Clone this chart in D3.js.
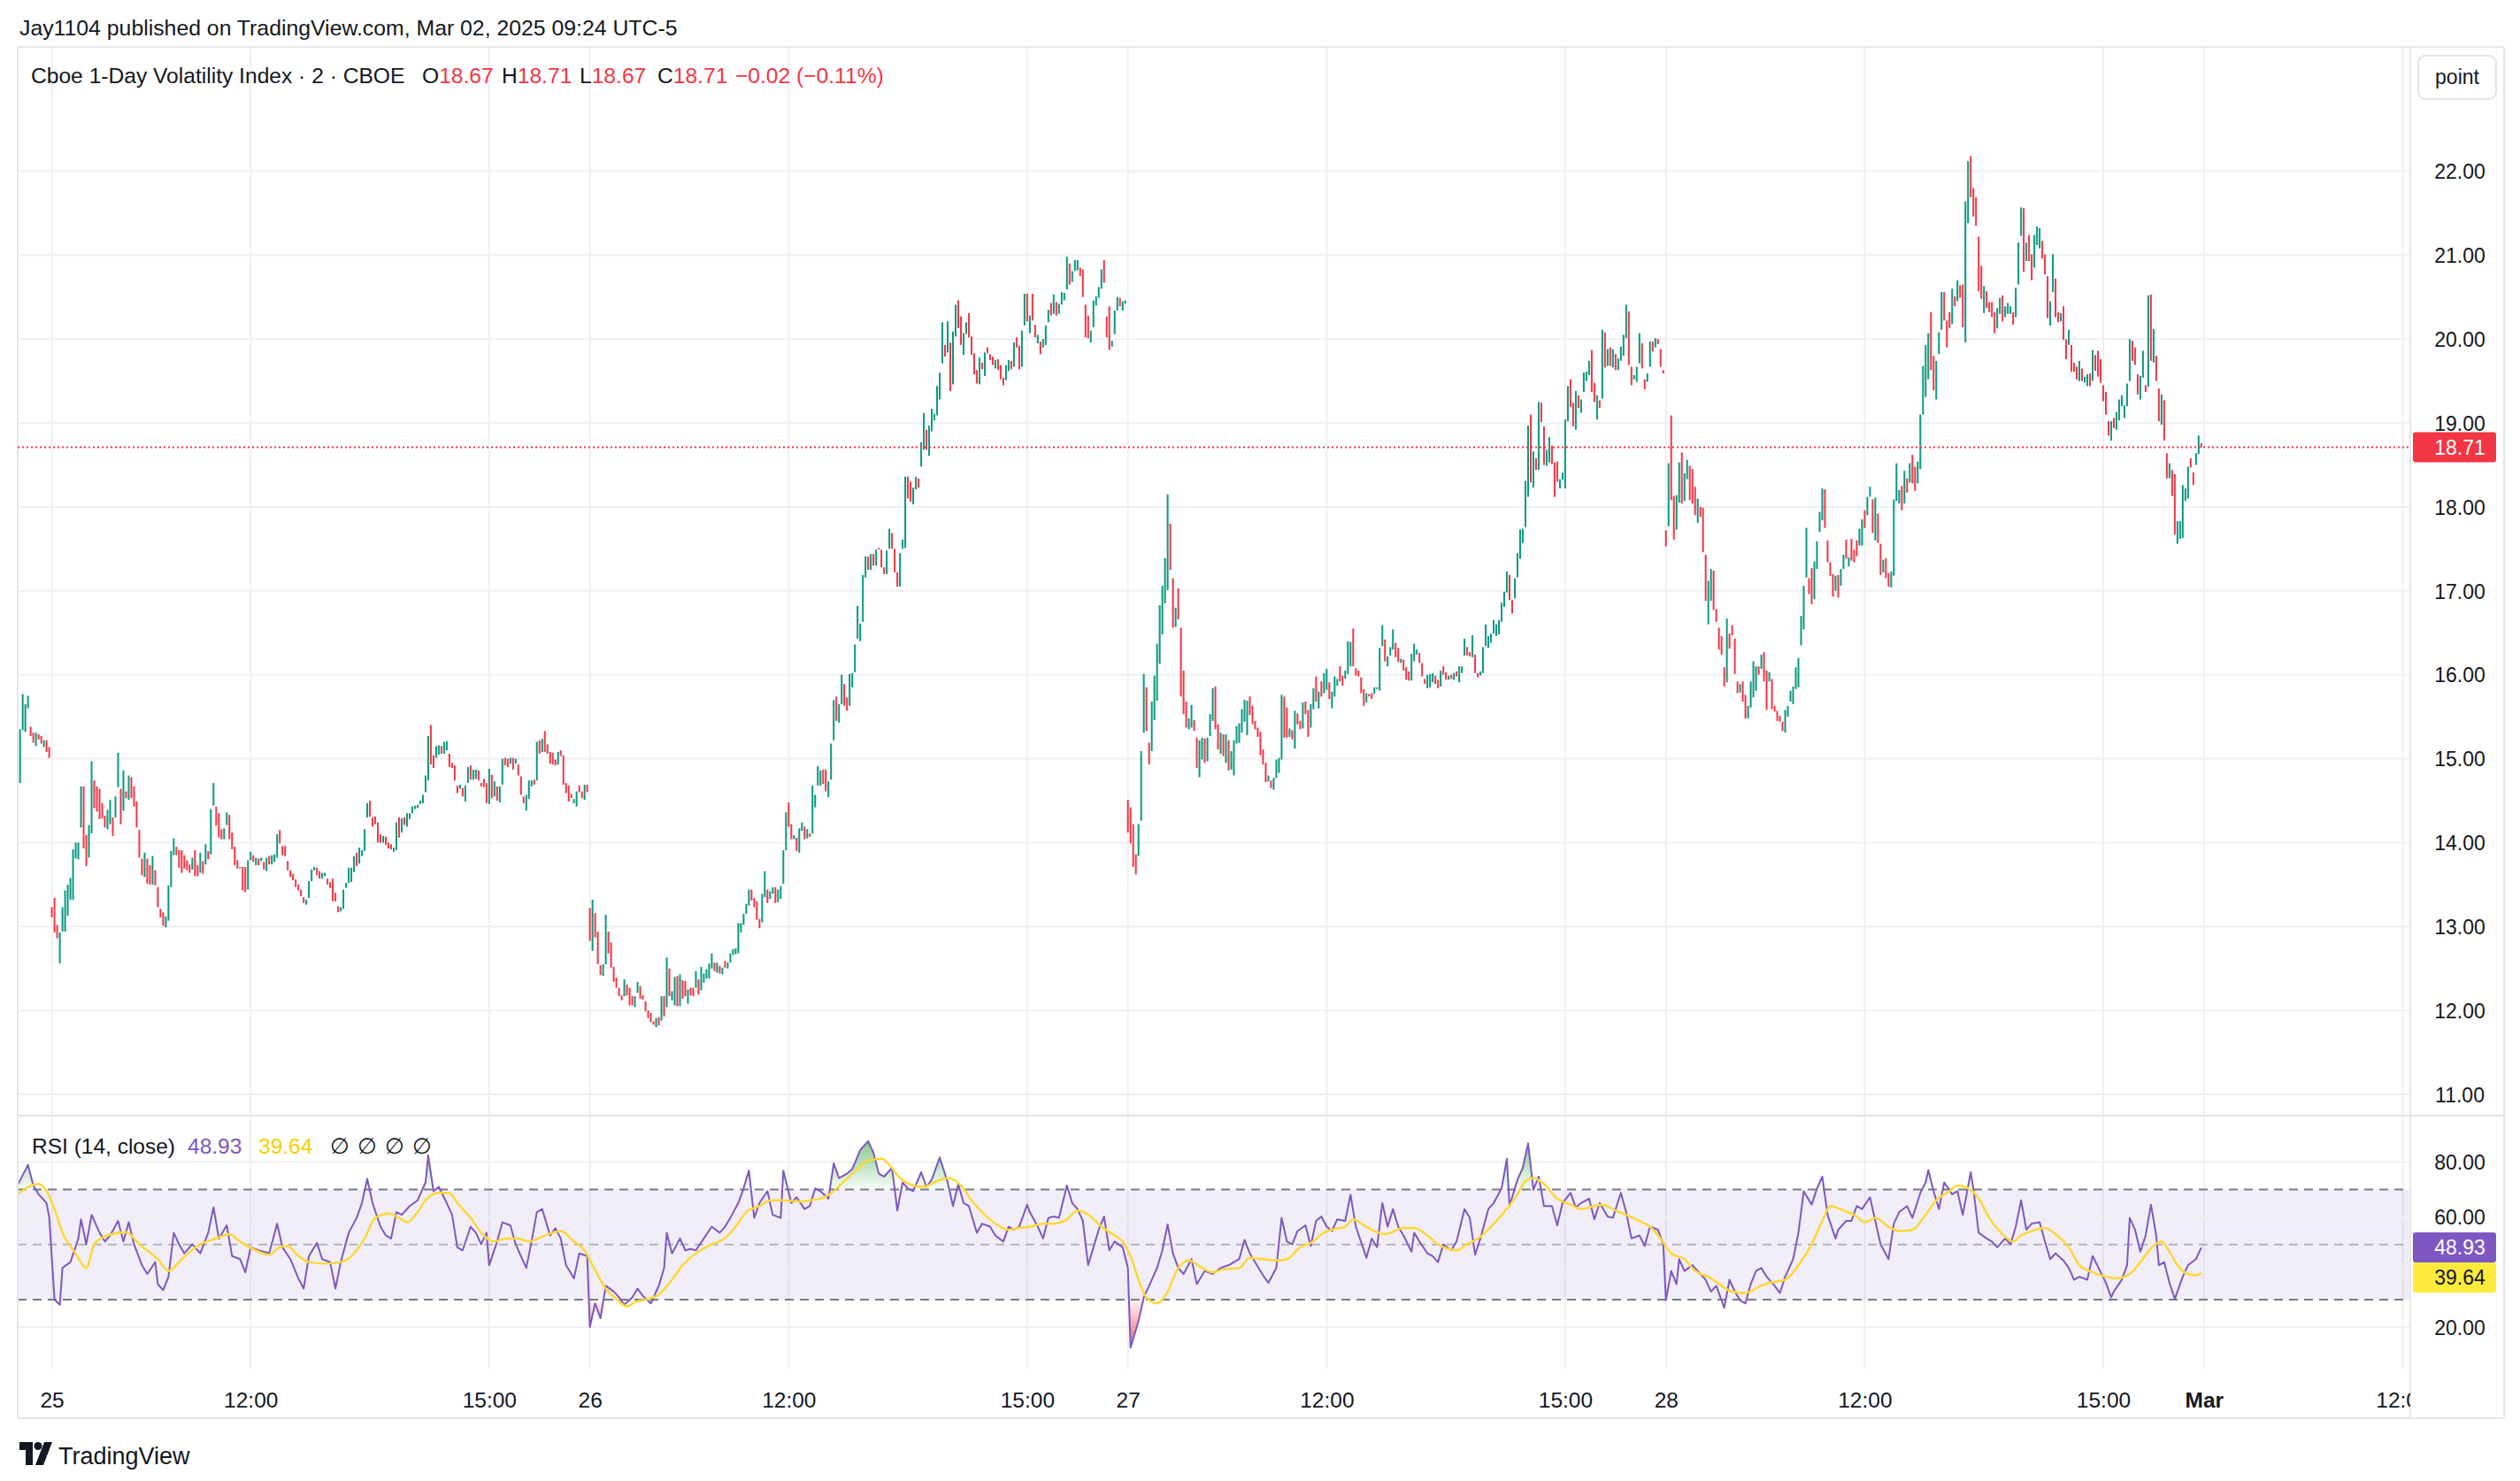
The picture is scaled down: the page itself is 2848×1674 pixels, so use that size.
<!DOCTYPE html>
<html>
<head>
<meta charset="utf-8">
<script src="https://cdn.jsdelivr.net/npm/d3@7"></script>
<style>
  html, body { margin: 0; padding: 0; background: #fff; }
  svg { display: block; }
  text { font-family: "Liberation Sans", Arial, sans-serif; }
</style>
</head>
<body>
<div id="chart"></div>
<script>
// 2-minute bars, [open, close]; each session 09:30-16:14 = 203 bars
const feb24Tail = [[14.07,14.87],[14.71,15.35],[15.34,15.77],[15.32,15.65],[15.60,15.75],[15.38,15.27],[15.31,15.19],
  [15.15,15.31],[15.29,15.23],[15.27,15.18],[15.14,15.22],[15.22,15.08],[15.14,15.01]];

const feb25 = [
  [13.23,13.11],[13.34,12.93],[13.02,12.86],[12.56,12.93],[12.94,13.23],[12.94,13.43],[13.13,13.50],[13.32,13.58],[13.32,13.92],[13.81,14.00],
  [13.80,14.00],[14.18,14.67],[14.67,13.93],[14.09,13.72],[13.82,14.21],[14.11,14.97],[14.74,14.41],[14.67,14.37],[14.64,14.28],[14.47,14.29],
  [14.32,14.18],[14.16,14.39],[14.22,14.51],[14.30,14.08],[14.30,14.55],[14.66,15.07],[14.64,14.22],[14.38,14.86],[14.61,14.53],[14.51,14.80],
  [14.78,14.53],[14.67,14.43],[14.49,14.18],[14.15,13.82],[13.81,13.61],[13.59,13.88],[13.81,13.51],[13.73,13.50],[13.50,13.84],[13.67,13.49],
  [13.47,13.23],[13.21,13.11],[13.17,13.01],[12.99,13.12],[13.07,13.49],[13.47,13.90],[13.85,14.05],[13.95,13.85],[13.91,13.70],[13.91,13.64],
  [13.85,13.69],[13.79,13.67],[13.74,13.64],[13.68,13.82],[13.91,13.60],[13.73,13.60],[13.64,13.88],[13.78,13.63],[13.74,13.98],[13.90,13.80],
  [13.86,14.40],[14.44,14.71],[14.43,14.20],[14.35,14.06],[14.16,14.04],[14.04,14.17],[14.21,14.36],[14.33,14.04],[14.12,13.92],[13.95,13.73],
  [13.79,13.69],[13.70,13.71],[13.71,13.43],[13.71,13.41],[13.44,13.79],[13.79,13.89],[13.85,13.77],[13.73,13.82],[13.81,13.73],[13.78,13.82],
  [13.77,13.68],[13.66,13.82],[13.84,13.74],[13.74,13.85],[13.77,13.86],[13.82,14.10],[14.15,13.99],[13.96,13.85],[13.96,13.84],[13.78,13.67],
  [13.67,13.59],[13.63,13.55],[13.56,13.47],[13.50,13.43],[13.44,13.36],[13.35,13.28],[13.26,13.32],[13.34,13.54],[13.54,13.68],[13.67,13.71],
  [13.70,13.61],[13.66,13.57],[13.57,13.64],[13.60,13.64],[13.57,13.50],[13.53,13.46],[13.57,13.30],[13.40,13.30],[13.24,13.17],[13.18,13.23],
  [13.21,13.44],[13.46,13.52],[13.52,13.70],[13.53,13.70],[13.65,13.84],[13.88,13.72],[13.75,13.94],[13.84,13.91],[13.90,14.16],[14.30,14.47],
  [14.50,14.31],[14.30,14.19],[14.31,14.22],[14.24,14.00],[14.10,14.00],[14.00,14.08],[14.07,13.97],[14.00,13.93],[13.98,13.92],[13.89,13.94],
  [13.91,14.24],[14.30,14.06],[14.12,14.29],[14.30,14.21],[14.19,14.35],[14.28,14.35],[14.35,14.43],[14.40,14.44],[14.41,14.45],[14.46,14.50],
  [14.47,14.57],[14.60,14.80],[14.74,15.27],[15.40,14.93],[15.04,14.89],[15.01,15.15],[15.05,15.16],[15.15,15.06],[15.06,15.20],[15.10,15.21],
  [15.06,14.90],[14.95,14.89],[14.92,14.74],[14.68,14.59],[14.64,14.69],[14.65,14.55],[14.49,14.68],[14.71,14.90],[14.92,14.75],[14.75,14.87],
  [14.76,14.87],[14.86,14.74],[14.71,14.67],[14.76,14.66],[14.71,14.47],[14.46,14.88],[14.81,14.53],[14.55,14.73],[14.67,14.50],[14.48,14.67],
  [14.69,15.00],[15.01,14.92],[15.00,14.90],[14.94,15.01],[15.01,14.87],[14.94,15.00],[14.93,14.80],[14.79,14.57],[14.55,14.47],[14.38,14.57],
  [14.52,14.74],[14.67,14.74],[14.75,14.69],[14.74,15.20],[15.22,15.06],[15.08,15.24],[15.33,15.08],[15.17,15.06],[15.08,14.94],[15.07,14.93],
  [14.99,14.92],[14.93,15.08],[15.10,15.03],[15.04,14.69],[14.71,14.59],[14.68,14.49],[14.58,14.53],[14.47,14.52],[14.43,14.61],[14.68,14.60],
  [14.61,14.53],[14.51,14.69],[14.69,14.60]
];

const feb26 = [
  [13.22,12.83],[12.71,13.32],[13.16,12.87],[12.94,12.55],[12.54,12.42],[12.41,12.55],[12.55,13.14],[12.94,12.68],[12.81,12.51],[12.52,12.34],
  [12.39,12.27],[12.27,12.17],[12.18,12.12],[12.17,12.37],[12.31,12.18],[12.27,12.06],[12.17,12.06],[12.04,12.17],[12.21,12.34],[12.29,12.14],
  [12.18,12.13],[12.11,11.99],[12.00,11.91],[11.97,11.86],[11.87,11.83],[11.80,11.91],[11.92,11.82],[11.88,12.17],[12.17,11.93],[12.04,12.63],
  [12.50,12.17],[12.12,12.23],[12.06,12.40],[12.41,12.05],[12.05,12.43],[12.36,12.14],[12.35,12.17],[12.08,12.25],[12.27,12.18],[12.27,12.17],
  [12.27,12.47],[12.37,12.19],[12.24,12.52],[12.33,12.44],[12.38,12.49],[12.38,12.56],[12.50,12.68],[12.57,12.47],[12.45,12.57],[12.53,12.44],
  [12.43,12.51],[12.59,12.51],[12.50,12.57],[12.57,12.68],[12.66,12.73],[12.67,12.74],[12.68,13.04],[12.93,13.04],[13.02,13.15],[13.15,13.27],
  [13.25,13.44],[13.44,13.31],[13.34,13.23],[13.30,13.08],[13.09,12.98],[13.05,13.39],[13.35,13.66],[13.44,13.28],[13.33,13.42],[13.39,13.47],
  [13.47,13.28],[13.29,13.44],[13.33,13.48],[13.51,13.91],[13.91,14.36],[14.48,14.19],[14.22,14.04],[14.04,14.09],[14.06,13.90],[13.88,14.17],
  [14.14,14.24],[14.19,14.04],[14.05,14.16],[14.11,14.07],[14.11,14.68],[14.42,14.57],[14.68,14.91],[14.68,14.86],[14.87,14.70],[14.87,14.61],
  [14.54,14.73],[14.75,15.18],[15.22,15.70],[15.74,15.45],[15.43,15.65],[15.65,16.00],[15.89,15.63],[15.73,15.57],[15.63,16.01],[15.85,16.02],
  [16.03,16.36],[16.43,16.82],[16.40,16.61],[16.63,17.19],[17.16,17.41],[17.41,17.25],[17.25,17.44],[17.44,17.30],[17.30,17.49],[17.51,17.49],
  [17.49,17.28],[17.28,17.20],[17.20,17.48],[17.50,17.74],[17.69,17.50],[17.50,17.22],[17.22,17.05],[17.05,17.45],[17.50,17.61],[17.51,18.36],
  [18.36,18.10],[18.30,18.06],[18.03,18.23],[18.21,18.36],[18.34,18.23],[18.48,18.77],[18.68,19.12],[18.92,18.68],[18.61,18.97],[18.90,19.17],
  [19.03,19.11],[19.09,19.44],[19.28,19.60],[19.71,20.20],[19.93,19.79],[19.84,20.21],[19.96,19.38],[19.46,20.09],[20.03,20.41],[20.46,20.13],
  [20.27,19.93],[19.81,20.07],[20.06,20.20],[20.31,20.02],[20.03,19.81],[19.83,19.58],[19.63,19.47],[19.46,19.78],[19.72,19.64],[19.56,19.84],
  [19.90,19.83],[19.82,19.75],[19.79,19.69],[19.65,19.75],[19.76,19.63],[19.69,19.52],[19.54,19.45],[19.51,19.69],[19.62,19.75],[19.74,19.64],
  [19.67,19.96],[20.02,19.90],[19.92,19.64],[19.67,20.10],[20.16,20.54],[20.54,20.21],[20.07,20.28],[20.54,20.22],[20.17,20.02],[19.95,20.05],
  [19.97,19.82],[19.90,20.00],[19.93,20.16],[20.20,20.35],[20.43,20.28],[20.30,20.53],[20.44,20.28],[20.30,20.42],[20.41,20.56],[20.46,20.55],
  [20.59,20.98],[20.90,20.65],[20.68,20.81],[20.81,20.94],[20.82,20.94],[20.85,20.75],[20.83,20.50],[20.41,20.02],[20.28,20.01],[19.96,20.10],
  [20.14,20.46],[20.40,20.51],[20.49,20.62],[20.60,20.83],[20.94,20.67],[20.27,20.02],[20.39,19.87],[19.91,19.98],[20.06,20.34],[20.34,20.50],
  [20.49,20.39],[20.34,20.45],[20.42,20.46]
];

const feb27 = [
  [14.51,14.12],[14.42,13.99],[14.22,13.71],[13.86,13.62],[13.84,14.22],[14.26,15.09],[15.31,16.01],[15.85,15.33],[15.19,14.93],[15.09,15.68],
  [15.46,15.99],[15.69,16.37],[16.13,16.83],[16.48,17.06],[16.85,17.39],[17.01,18.15],[17.80,17.25],[17.15,16.56],[16.57,16.80],[17.03,16.66],
  [16.56,15.74],[16.05,15.53],[15.68,15.37],[15.35,15.48],[15.37,15.64],[15.46,15.33],[15.25,14.89],[14.78,15.22],[14.99,15.25],[15.24,14.95],
  [14.97,15.25],[15.27,15.53],[15.45,15.84],[15.86,15.35],[15.41,15.11],[15.06,15.31],[15.29,15.03],[14.95,15.29],[15.22,14.86],[14.87,15.09],
  [14.80,15.22],[15.18,15.39],[15.19,15.42],[15.31,15.59],[15.44,15.70],[15.28,15.69],[15.74,15.52],[15.63,15.41],[15.45,15.35],[15.37,15.26],
  [15.32,15.04],[15.11,14.93],[14.95,14.72],[14.73,14.80],[14.74,14.65],[14.63,14.77],[14.77,14.99],[14.83,15.01],[14.99,15.76],[15.74,15.25],
  [15.61,15.25],[15.26,15.36],[15.34,15.23],[15.12,15.57],[15.54,15.41],[15.45,15.35],[15.36,15.67],[15.68,15.53],[15.58,15.26],[15.37,15.65],
  [15.59,15.84],[15.98,15.68],[15.60,15.80],[15.92,15.74],[15.78,16.02],[15.82,16.07],[15.91,15.71],[15.60,15.80],[15.74,15.98],[15.87,15.95],
  [16.10,15.92],[15.99,15.87],[15.95,16.05],[16.01,16.40],[16.10,16.39],[16.55,16.10],[16.08,15.99],[16.05,15.98],[15.97,15.78],[15.83,15.63],
  [15.67,15.78],[15.77,15.74],[15.78,15.71],[15.77,15.85],[15.83,15.85],[15.81,16.32],[16.34,16.59],[16.42,16.16],[16.10,16.22],[16.23,16.33],
  [16.30,16.54],[16.38,16.21],[16.32,16.15],[16.14,16.19],[16.18,16.05],[16.09,15.94],[16.04,15.93],[15.93,16.25],[16.16,16.37],[16.24,16.30],
  [16.26,16.14],[16.14,15.98],[15.95,15.89],[15.84,16.00],[15.85,16.01],[15.91,16.02],[15.99,15.89],[15.94,15.84],[15.86,16.05],[16.10,16.00],
  [16.03,15.94],[15.94,15.99],[16.00,15.95],[15.94,16.02],[16.04,15.98],[15.91,16.10],[16.02,16.10],[16.23,16.43],[16.33,16.23],[16.27,16.22],
  [16.21,16.47],[16.24,16.02],[16.02,15.97],[15.99,16.04],[16.02,16.33],[16.34,16.60],[16.32,16.46],[16.38,16.49],[16.49,16.65],[16.46,16.60],
  [16.48,16.65],[16.63,16.86],[16.81,16.99],[16.98,17.23],[17.19,16.89],[16.89,16.73],[16.91,17.15],[17.16,17.45],[17.38,17.73],[17.57,17.74],
  [17.76,18.31],[18.12,18.97],[19.10,18.29],[18.23,18.66],[18.58,18.44],[18.44,19.25],[19.24,19.01],[18.96,18.50],[18.49,18.68],[18.53,18.83],
  [18.73,18.51],[18.53,18.12],[18.54,18.30],[18.22,18.33],[18.32,18.41],[18.22,19.04],[19.02,19.44],[19.52,19.19],[19.24,18.96],[18.92,19.38],
  [19.33,19.18],[19.12,19.28],[19.37,19.60],[19.50,19.61],[19.57,19.74],[19.87,19.37],[19.48,19.25],[19.04,19.33],[19.27,19.18],[19.29,20.11],
  [20.08,19.66],[19.68,19.88],[19.90,19.68],[19.66,19.88],[19.82,19.63],[19.63,19.77],[19.74,19.91],[19.80,20.05],[20.01,20.41],[20.33,19.69],
  [19.67,19.45],[19.52,19.57],[19.49,19.67],[19.71,20.07],[19.95,19.65],[19.52,19.40],[19.49,19.59],[19.67,19.97],[19.97,19.85],[19.90,20.01],
  [20.00,19.94],[19.88,19.67],[19.63,19.59]
];

const feb28 = [
  [17.72,17.53],[17.77,18.52],[19.09,18.08],[18.13,17.61],[17.73,18.14],[18.05,18.53],[18.65,18.04],[18.07,18.40],[18.33,18.56],[18.49,18.08],
  [18.45,18.04],[18.24,17.90],[17.81,18.10],[18.00,17.88],[17.99,17.46],[17.43,16.88],[16.60,17.12],[16.88,17.26],[17.24,16.77],[16.78,16.63],
  [16.56,16.30],[16.46,16.24],[16.09,15.86],[15.91,16.67],[16.49,16.31],[16.59,16.47],[16.43,16.01],[15.92,15.78],[15.79,15.89],[15.92,15.68],
  [15.76,15.48],[15.48,15.63],[15.61,15.92],[15.73,16.16],[15.81,16.10],[16.10,16.00],[16.07,16.24],[16.27,15.92],[16.05,15.58],[15.92,16.03],
  [15.95,15.59],[15.63,15.56],[15.57,15.45],[15.51,15.44],[15.44,15.33],[15.31,15.58],[15.50,15.63],[15.68,15.81],[15.65,15.86],[15.83,16.09],
  [15.85,16.20],[16.35,16.70],[16.54,17.06],[17.16,17.75],[17.15,16.96],[17.27,16.84],[16.90,17.35],[17.26,17.59],[17.70,17.94],[17.84,18.22],
  [18.21,17.75],[17.60,17.34],[17.34,17.18],[17.20,16.93],[17.00,17.18],[17.19,16.92],[17.06,17.26],[17.26,17.43],[17.61,17.38],[17.29,17.40],
  [17.62,17.36],[17.49,17.34],[17.60,17.41],[17.54,17.74],[17.54,17.85],[17.96,17.75],[17.90,18.12],[18.12,18.24],[18.09,17.69],[17.60,18.11],
  [17.92,17.57],[17.56,17.19],[17.22,17.37],[17.39,17.15],[17.21,17.05],[17.04,17.23],[17.18,18.09],[18.07,18.52],[18.04,18.20],[18.25,17.96],
  [18.04,18.43],[18.34,18.17],[18.29,18.52],[18.62,18.28],[18.48,18.19],[18.28,18.54],[18.45,19.10],[19.10,19.68],[19.31,19.93],[19.52,20.07],
  [20.32,19.63],[19.80,19.39],[19.28,19.74],[19.82,20.08],[20.11,20.56],[20.56,20.22],[20.22,19.90],[20.32,20.13],[20.18,20.60],[20.51,20.39],
  [20.45,20.70],[20.64,20.49],[20.65,20.14],[19.96,21.64],[21.38,22.12],[22.18,21.69],[21.80,21.46],[21.69,21.35],[21.22,20.57],[20.87,20.48],
  [20.31,20.63],[20.57,20.37],[20.44,20.32],[20.44,20.26],[20.32,20.07],[20.13,20.37],[20.30,20.49],[20.52,20.21],[20.26,20.39],[20.30,20.43],
  [20.30,20.39],[20.32,20.17],[20.26,20.61],[20.65,21.15],[21.23,21.57],[21.56,20.80],[20.93,21.15],[21.24,20.93],[21.01,20.70],[20.85,21.24],
  [21.12,21.34],[21.08,21.32],[21.17,20.96],[21.01,20.77],[20.75,20.25],[20.16,20.45],[20.56,21.01],[20.72,20.26],[20.32,20.20],[20.21,20.31],
  [20.39,19.99],[20.00,19.76],[19.93,20.11],[19.93,19.61],[19.72,19.61],[19.67,19.52],[19.50,19.74],[19.65,19.50],[19.48,19.55],[19.44,19.58],
  [19.59,19.44],[19.50,19.87],[19.81,19.62],[19.86,19.55],[19.76,19.48],[19.45,19.26],[19.37,19.10],[19.02,18.85],[18.79,19.02],[19.06,18.94],
  [18.92,19.13],[19.03,19.28],[19.20,19.33],[19.06,19.21],[19.20,19.47],[19.50,20.00],[19.98,19.74],[19.90,19.69],[19.58,19.34],[19.28,19.56],
  [19.54,19.86],[19.45,19.37],[19.43,20.52],[20.53,19.74],[19.72,20.12],[19.80,19.50],[19.41,19.02],[18.98,19.34],[19.27,18.79],[18.64,18.34],
  [18.34,18.52],[18.44,18.13],[18.39,17.67],[17.56,17.83],[17.62,17.83],[17.63,18.26],[18.07,18.22],[18.10,18.48],[18.58,18.47],[18.41,18.26],
  [18.50,18.64],[18.63,18.85],[18.76,18.71]
];

const rsiPoints = [
  [-13,71.5],[-9,79.0],[-7,71.5],[-5,68.3],[-2,65.1],[-1,60.0],[0,45.0],[1,30.0],[3,28.1],[4,41.5],[7,43.6],[10,52.2],[11,59.2],[13,50.1],
  [15,60.8],[18,54.3],[20,51.1],[22,53.3],[25,58.6],[27,51.1],[29,58.1],[31,50.1],[34,42.5],[36,39.3],[39,43.6],[40,35.6],[42,33.4],[44,38.3],
  [46,54.3],[48,50.1],[50,46.8],[53,50.1],[56,46.8],[59,54.3],[61,63.5],[63,52.2],[66,57.0],[68,45.8],[71,44.7],[73,39.9],[75,49.0],[78,47.9],
  [82,46.8],[85,57.6],[87,49.0],[90,44.7],[93,37.7],[95,34.0],[97,45.8],[100,50.6],[102,44.7],[105,43.6],[107,34.0],[109,43.6],[112,54.3],
  [115,59.7],[117,65.1],[119,73.9],[121,65.1],[124,56.5],[126,53.3],[128,52.2],[130,61.8],[132,60.8],[135,64.0],[138,66.1],[141,72.6],[142,82.4],
  [144,69.4],[146,71.0],[149,65.1],[151,60.8],[153,49.0],[155,47.9],[158,56.5],[160,54.3],[162,50.1],[164,54.3],[165,42.5],[168,51.1],[170,58.1],
  [173,57.0],[175,50.1],[177,45.8],[179,41.5],[181,51.1],[183,61.8],[185,62.9],[188,53.3],[190,56.0],[192,52.2],[194,42.5],[197,37.7],[199,46.8],
  [202,45.8],[203,20.0],[205,28.6],[207,23.2],[209,35.0],[212,32.9],[214,30.8],[216,28.1],[219,30.8],[221,34.0],[223,31.3],[226,28.6],[229,35.0],
  [231,41.5],[232,54.3],[234,46.8],[237,52.2],[239,47.9],[241,48.4],[243,47.9],[246,52.2],[249,56.5],[252,54.3],[254,56.5],[256,59.7],[259,65.1],
  [261,70.4],[263,76.9],[265,59.7],[267,65.1],[270,69.4],[272,60.8],[275,59.7],[276,76.9],[279,65.1],[281,67.2],[284,62.9],[286,64.0],[288,70.4],
  [290,69.4],[293,66.7],[295,79.5],[297,74.2],[300,75.8],[302,77.4],[305,84.4],[308,87.6],[310,83.4],[312,75.8],[314,74.7],[317,77.9],[319,62.4],
  [321,72.6],[323,70.4],[325,69.4],[328,76.3],[330,71.0],[332,73.6],[335,81.7],[338,72.6],[340,64.0],[342,72.0],[344,65.1],[346,64.0],[349,54.3],
  [351,57.6],[354,56.5],[356,53.3],[359,51.1],[361,56.5],[363,55.4],[365,56.5],[368,64.5],[369,61.8],[372,56.5],[374,52.2],[376,59.7],[378,60.2],
  [380,59.7],[383,71.5],[385,65.1],[387,62.9],[389,58.6],[391,42.5],[393,49.0],[395,55.4],[397,60.2],[399,47.9],[401,51.1],[404,49.0],[406,41.5],
  [407,12.5],[410,22.2],[412,30.8],[414,35.0],[417,41.5],[419,47.9],[421,57.3],[423,46.8],[425,41.5],[427,39.3],[430,44.7],[432,35.6],[435,40.4],
  [438,39.3],[441,41.5],[444,42.5],[448,44.7],[450,51.7],[452,46.8],[454,43.6],[457,38.8],[459,36.1],[462,41.5],[464,59.7],[466,51.1],[468,50.1],
  [470,54.9],[473,57.0],[475,49.5],[477,58.6],[479,60.2],[481,56.5],[483,54.9],[485,59.2],[488,58.6],[490,68.1],[492,56.5],[496,45.2],[498,52.2],
  [500,49.0],[502,65.1],[504,56.5],[506,62.9],[508,56.5],[510,53.3],[513,47.4],[514,54.3],[516,51.1],[519,46.8],[521,45.8],[523,43.6],[525,50.1],
  [528,47.9],[530,51.1],[533,62.9],[535,59.7],[537,46.3],[539,52.2],[542,62.9],[544,65.1],[547,70.4],[549,81.2],[550,64.0],[553,73.6],[555,77.9],
  [557,86.8],[559,69.9],[561,74.7],[563,64.0],[566,64.0],[568,57.0],[570,65.1],[573,68.8],[575,63.5],[577,65.1],[580,66.7],[582,59.2],[584,65.1],
  [587,60.2],[589,59.7],[592,68.8],[594,61.8],[596,52.2],[599,53.3],[601,49.5],[603,56.5],[606,55.4],[608,50.1],[609,29.7],[611,40.4],[613,35.6],
  [614,44.7],[616,40.4],[619,42.5],[621,40.4],[624,37.2],[626,32.9],[628,35.0],[631,27.0],[633,37.2],[635,32.9],[637,29.7],[639,28.6],[641,35.6],
  [643,40.4],[645,41.5],[647,38.3],[650,35.0],[652,32.4],[654,38.3],[657,44.7],[659,54.3],[661,69.4],[664,64.5],[666,70.4],[668,74.7],[670,60.8],
  [673,52.2],[674,55.4],[677,58.6],[679,58.6],[681,64.0],[683,62.9],[686,67.2],[688,58.6],[690,50.1],[693,44.7],[695,57.6],[697,61.8],[700,64.0],
  [702,59.7],[705,68.8],[707,72.6],[708,77.1],[710,69.4],[712,62.9],[714,72.6],[717,68.3],[719,69.4],[721,60.8],[724,76.3],[725,70.4],[727,54.3],
  [730,52.2],[732,51.1],[734,49.0],[737,52.2],[739,50.1],[741,56.5],[743,66.1],[745,55.4],[747,57.6],[750,58.1],[752,51.1],[754,44.7],[756,46.8],
  [759,44.2],[761,41.5],[763,37.2],[765,38.3],[768,37.2],[770,45.8],[772,42.0],[775,36.1],[777,30.8],[778,32.9],[781,37.2],[783,42.5],[784,59.7],
  [786,55.4],[788,47.4],[790,53.3],[792,64.5],[794,53.3],[795,42.5],[797,43.6],[799,36.1],[801,30.2],[804,38.3],[806,42.5],[809,44.7],[811,48.93]
];

const rsiMaPoints = [
  [-13,68.3],[-5,72.0],[-2,69.4],[1,62.9],[4,54.3],[9,46.8],[13,41.5],[16,50.1],[21,53.3],[28,54.5],[33,50.1],[40,44.7],[44,40.4],[49,44.7],
  [56,50.1],[62,52.2],[67,53.8],[71,51.1],[77,47.9],[82,46.3],[86,49.0],[89,49.5],[92,46.8],[97,43.6],[103,43.1],[109,43.6],[113,45.8],[118,52.2],
  [122,59.7],[127,61.3],[131,59.7],[134,58.1],[138,61.8],[141,66.1],[146,68.8],[150,68.8],[153,65.1],[158,59.7],[162,54.3],[167,51.1],[171,52.2],
  [176,52.2],[180,51.1],[186,53.3],[192,54.9],[197,51.1],[201,47.9],[204,42.5],[209,34.0],[213,30.2],[217,27.5],[220,29.1],[225,30.2],[229,31.8],
  [234,37.2],[238,42.5],[243,46.8],[249,50.1],[253,51.7],[258,56.5],[262,61.8],[267,64.0],[271,66.1],[276,66.1],[282,65.6],[286,66.1],[290,66.7],
  [295,69.4],[299,73.1],[304,77.4],[308,80.6],[313,81.2],[316,79.0],[320,74.2],[325,71.5],[329,71.0],[334,73.1],[338,74.2],[343,71.5],[347,66.1],
  [352,60.8],[356,57.6],[361,55.4],[365,56.0],[369,56.5],[374,57.6],[378,57.6],[383,59.2],[387,62.4],[392,60.2],[396,56.5],[401,53.3],[404,51.1],
  [407,45.8],[410,37.2],[413,30.8],[417,28.6],[421,32.9],[425,41.5],[429,44.2],[434,41.5],[438,39.9],[442,41.0],[448,41.5],[452,45.2],[457,44.7],
  [462,44.2],[466,44.7],[471,49.0],[476,51.1],[479,53.8],[483,55.4],[488,56.5],[491,59.2],[494,57.6],[499,54.9],[503,53.8],[510,56.0],[514,56.0],
  [519,53.3],[523,50.1],[527,48.4],[530,47.9],[534,50.1],[539,52.8],[543,56.5],[548,61.8],[553,68.3],[556,73.1],[559,74.2],[563,72.0],[568,66.7],
  [573,64.5],[577,62.9],[582,64.0],[585,64.5],[590,62.4],[594,60.8],[599,58.6],[603,56.5],[607,52.2],[611,46.8],[616,44.7],[620,40.4],[625,38.3],
  [630,35.0],[634,32.9],[639,32.4],[644,34.6],[648,36.1],[654,37.2],[659,42.5],[664,50.1],[668,58.6],[671,64.0],[676,62.4],[681,60.2],[684,58.1],
  [688,59.7],[693,56.5],[697,54.9],[702,55.4],[707,60.8],[711,66.1],[716,69.4],[719,71.5],[724,69.9],[727,66.7],[731,59.7],[736,53.8],[740,51.1],
  [743,53.3],[747,54.9],[752,56.0],[756,53.8],[761,49.0],[765,42.5],[770,39.9],[775,38.3],[779,37.7],[784,39.3],[788,43.6],[793,49.5],[796,51.1],
  [799,47.4],[802,42.5],[806,39.3],[809,38.8],[811,39.64]
];

const timeTicks = [0, 75, 165, 203, 278, 368, 406, 481, 571, 609, 684, 774, 812, 887];
const timeLabels = ["25", "12:00", "15:00", "26", "12:00", "15:00", "27", "12:00", "15:00", "28", "12:00", "15:00", "Mar", "12:00"];
const priceTicks = [11, 12, 13, 14, 15, 16, 17, 18, 19, 20, 21, 22];
const rsiGrid = [20, 40, 60, 80];
const rsiTickLabels = [20, 60, 80];   // 40 sits under the value tags
const rsiLevels = [70, 50, 30];
const lastPrice = 18.71, lastRsi = 48.93, lastRsiMa = 39.64;
const barsPerSession = 203;

const W = 2848, H = 1674;
const plotL = 20, plotR = 2724, frameR = 2830;
const priceTop = 53, priceBot = 1261, rsiBot = 1547, frameB = 1603;
const axisX = 2780;

const teal = "#089981", red = "#f23645", ink = "#131722", grid = "#f0f0f0", frame = "#e6e6ea";
const purple = "#7e57c2", yellow = "#fdd835";

const x = d3.scaleLinear().domain([0, 812]).range([58.6, 2490.8]);
const y = d3.scaleLinear().domain([11, 22]).range([1237, 193.5]);
const yr = d3.scaleLinear().domain([20, 80]).range([1500, 1313.5]);

const bars = [];
feb24Tail.forEach((d, j) => bars.push({ g: j - feb24Tail.length, o: d[0], c: d[1] }));
[feb25, feb26, feb27, feb28].forEach((day, k) =>
  day.forEach((d, j) => bars.push({ g: k * barsPerSession + j, o: d[0], c: d[1] })));

const svg = d3.select("#chart").append("svg")
  .attr("width", W).attr("height", H)
  .attr("xmlns", "http://www.w3.org/2000/svg");

svg.append("rect").attr("width", W).attr("height", H).attr("fill", "#fff");

const defs = svg.append("defs");
defs.append("clipPath").attr("id", "clipPrice").append("rect")
  .attr("x", plotL + 1).attr("y", priceTop + 1).attr("width", plotR - plotL - 1).attr("height", priceBot - priceTop - 2);
defs.append("clipPath").attr("id", "clipRsi").append("rect")
  .attr("x", plotL + 1).attr("y", priceBot + 1).attr("width", plotR - plotL - 1).attr("height", rsiBot - priceBot);
defs.append("clipPath").attr("id", "clipOB").append("rect")
  .attr("x", plotL + 1).attr("y", priceBot).attr("width", plotR - plotL).attr("height", yr(70) - priceBot);
defs.append("clipPath").attr("id", "clipOS").append("rect")
  .attr("x", plotL + 1).attr("y", yr(30)).attr("width", plotR - plotL).attr("height", rsiBot - yr(30));
defs.append("clipPath").attr("id", "clipAxisX").append("rect")
  .attr("x", 0).attr("y", rsiBot).attr("width", plotR).attr("height", frameB - rsiBot);

const gOB = defs.append("linearGradient").attr("id", "gradOB").attr("gradientUnits", "userSpaceOnUse")
  .attr("x1", 0).attr("x2", 0).attr("y1", yr(90)).attr("y2", yr(70));
gOB.append("stop").attr("offset", 0).attr("stop-color", "rgba(76,175,80,0.75)");
gOB.append("stop").attr("offset", 1).attr("stop-color", "rgba(76,175,80,0.04)");
const gOS = defs.append("linearGradient").attr("id", "gradOS").attr("gradientUnits", "userSpaceOnUse")
  .attr("x1", 0).attr("x2", 0).attr("y1", yr(30)).attr("y2", yr(12));
gOS.append("stop").attr("offset", 0).attr("stop-color", "rgba(242,54,69,0.04)");
gOS.append("stop").attr("offset", 1).attr("stop-color", "rgba(242,54,69,0.8)");

// ---- grid ----
const gGrid = svg.append("g");
gGrid.selectAll(".vg").data(timeTicks).enter().append("line")
  .attr("x1", d => x(d)).attr("x2", d => x(d))
  .attr("y1", priceTop).attr("y2", rsiBot)
  .attr("stroke", grid).attr("stroke-width", 2);
gGrid.selectAll(".hg").data(priceTicks).enter().append("line")
  .attr("x1", plotL).attr("x2", plotR)
  .attr("y1", d => y(d)).attr("y2", d => y(d))
  .attr("stroke", grid).attr("stroke-width", 2);

// ---- RSI pane background & levels ----
const gRsi = svg.append("g");
gRsi.append("rect")
  .attr("x", plotL + 1).attr("width", plotR - plotL - 1)
  .attr("y", yr(70)).attr("height", yr(30) - yr(70))
  .attr("fill", "rgba(126,87,194,0.1)");
gRsi.selectAll(".rg").data(rsiGrid).enter().append("line")
  .attr("x1", plotL).attr("x2", plotR)
  .attr("y1", d => yr(d)).attr("y2", d => yr(d))
  .attr("stroke", grid).attr("stroke-width", 2);
gRsi.selectAll(".lv").data(rsiLevels).enter().append("line")
  .attr("x1", plotL).attr("x2", plotR)
  .attr("y1", d => yr(d)).attr("y2", d => yr(d))
  .attr("stroke", d => d === 50 ? "#b2b5be" : "#787b86")
  .attr("stroke-width", 2).attr("stroke-dasharray", "10,7");

// ---- frame ----
svg.append("line").attr("x1", plotL).attr("x2", frameR).attr("y1", priceTop).attr("y2", priceTop).attr("stroke", frame).attr("stroke-width", 2);
svg.append("line").attr("x1", plotL).attr("x2", frameR).attr("y1", frameB).attr("y2", frameB).attr("stroke", frame).attr("stroke-width", 2);
svg.append("line").attr("x1", plotL).attr("x2", plotL).attr("y1", priceTop).attr("y2", frameB).attr("stroke", frame).attr("stroke-width", 2);
svg.append("line").attr("x1", frameR).attr("x2", frameR).attr("y1", priceTop).attr("y2", frameB).attr("stroke", frame).attr("stroke-width", 2);
svg.append("line").attr("x1", plotR).attr("x2", plotR).attr("y1", priceTop).attr("y2", frameB).attr("stroke", frame).attr("stroke-width", 2);
svg.append("line").attr("x1", plotL).attr("x2", frameR).attr("y1", priceBot).attr("y2", priceBot).attr("stroke", "#e0e3eb").attr("stroke-width", 2);

// ---- candles ----
const gBars = svg.append("g").attr("clip-path", "url(#clipPrice)");
gBars.selectAll("rect").data(bars).enter().append("rect")
  .attr("x", d => x(d.g) - 1)
  .attr("width", 2)
  .attr("y", d => y(Math.max(d.o, d.c)))
  .attr("height", d => Math.max(1.5, Math.abs(y(d.o) - y(d.c))))
  .attr("fill", d => d.c >= d.o ? teal : red);

// last price line
svg.append("line")
  .attr("x1", plotL).attr("x2", plotR)
  .attr("y1", y(lastPrice)).attr("y2", y(lastPrice))
  .attr("stroke", red).attr("stroke-width", 2).attr("stroke-dasharray", "2,3");

// ---- RSI lines ----
const gRsiLines = svg.append("g").attr("clip-path", "url(#clipRsi)");
gRsiLines.append("path").datum(rsiPoints)
  .attr("clip-path", "url(#clipOB)")
  .attr("d", d3.area().x(d => x(d[0])).y1(d => yr(d[1])).y0(yr(70)))
  .attr("fill", "url(#gradOB)");
gRsiLines.append("path").datum(rsiPoints)
  .attr("clip-path", "url(#clipOS)")
  .attr("d", d3.area().x(d => x(d[0])).y1(d => yr(d[1])).y0(yr(30)))
  .attr("fill", "url(#gradOS)");
const line = d3.line().x(d => x(d[0])).y(d => yr(d[1]));
gRsiLines.append("path").datum(rsiPoints)
  .attr("d", line).attr("fill", "none").attr("stroke", purple).attr("stroke-width", 2).attr("stroke-linejoin", "round");
gRsiLines.append("path").datum(rsiMaPoints)
  .attr("d", line.curve(d3.curveMonotoneX)).attr("fill", "none").attr("stroke", yellow).attr("stroke-width", 2.5);

// ---- axes ----
const fontAxis = 23;
const gY = svg.append("g").attr("transform", `translate(${axisX},0)`)
  .call(d3.axisRight(y).tickValues(priceTicks).tickFormat(d3.format(".2f")).tickSize(0).tickPadding(0));
const gYr = svg.append("g").attr("transform", `translate(${axisX},0)`)
  .call(d3.axisRight(yr).tickValues(rsiTickLabels).tickFormat(d3.format(".2f")).tickSize(0).tickPadding(0));
[gY, gYr].forEach(g => {
  g.select(".domain").remove();
  g.selectAll("text").attr("text-anchor", "middle").attr("x", 0).attr("dy", "0.36em")
    .attr("font-size", fontAxis).attr("font-family", "Liberation Sans, Arial, sans-serif").attr("fill", ink);
});

const gX = svg.append("g").attr("clip-path", "url(#clipAxisX)")
  .append("g").attr("transform", `translate(0,1582)`)
  .call(d3.axisBottom(x).tickValues(timeTicks).tickFormat((d, i) => timeLabels[i]).tickSize(0).tickPadding(0));
gX.select(".domain").remove();
gX.selectAll("text").attr("y", 0).attr("dy", "0.36em")
  .attr("font-size", 24.5).attr("font-family", "Liberation Sans, Arial, sans-serif").attr("fill", ink)
  .attr("font-weight", (d, i) => timeLabels[i] === "Mar" ? "bold" : "normal");

// price tag
const tagW = 94, tagH = 34, tagX = 2727;
svg.append("rect").attr("x", tagX).attr("y", y(lastPrice) - tagH / 2).attr("width", tagW).attr("height", tagH)
  .attr("rx", 3).attr("fill", red);
svg.append("text").attr("x", axisX).attr("y", y(lastPrice)).attr("dy", "0.36em")
  .attr("text-anchor", "middle").attr("font-size", fontAxis).attr("fill", "#fff").text(lastPrice.toFixed(2));

// RSI tags
const rsiTagY = yr(lastRsi) - tagH / 2;
svg.append("rect").attr("x", tagX).attr("y", rsiTagY).attr("width", tagW).attr("height", tagH).attr("rx", 3).attr("fill", purple);
svg.append("text").attr("x", axisX).attr("y", rsiTagY + tagH / 2).attr("dy", "0.36em")
  .attr("text-anchor", "middle").attr("font-size", fontAxis).attr("fill", "#fff").text(lastRsi.toFixed(2));
svg.append("rect").attr("x", tagX).attr("y", rsiTagY + tagH).attr("width", tagW).attr("height", tagH).attr("rx", 3).attr("fill", "#ffeb3b");
svg.append("text").attr("x", axisX).attr("y", rsiTagY + tagH * 1.5).attr("dy", "0.36em")
  .attr("text-anchor", "middle").attr("font-size", fontAxis).attr("fill", ink).text(lastRsiMa.toFixed(2));

// "point" button
svg.append("rect").attr("x", 2733).attr("y", 63).attr("width", 88).attr("height", 49).attr("rx", 8)
  .attr("fill", "#fff").attr("stroke", "#e0e3eb").attr("stroke-width", 2);
svg.append("text").attr("x", 2777).attr("y", 87).attr("dy", "0.36em").attr("text-anchor", "middle")
  .attr("font-size", 23).attr("fill", ink).text("point");

// ---- texts ----
svg.append("text").attr("x", 22).attr("y", 40).attr("font-size", 24.8).attr("fill", ink)
  .text("Jay1104 published on TradingView.com, Mar 02, 2025 09:24 UTC-5");

const title = svg.append("g").attr("font-size", 24.6);
title.append("text").attr("x", 35).attr("y", 94).attr("fill", ink).text("Cboe 1-Day Volatility Index · 2 · CBOE");
[["O", "18.67", 477], ["H", "18.71", 567], ["L", "18.67", 655], ["C", "18.71", 743]].forEach(([k, v, px]) => {
  const t = title.append("text").attr("x", px).attr("y", 94);
  t.append("tspan").attr("fill", ink).text(k);
  t.append("tspan").attr("fill", red).text(v);
});
title.append("text").attr("x", 831).attr("y", 94).attr("fill", red).text("−0.02 (−0.11%)");

const leg = svg.append("g").attr("font-size", 24.5);
leg.append("text").attr("x", 36).attr("y", 1304).attr("fill", ink).text("RSI (14, close)");
leg.append("text").attr("x", 212).attr("y", 1304).attr("fill", purple).text(lastRsi.toFixed(2));
leg.append("text").attr("x", 292).attr("y", 1304).attr("fill", "#f5d000").text(lastRsiMa.toFixed(2));
[373, 404, 435, 466].forEach(px => leg.append("text").attr("x", px).attr("y", 1304).attr("fill", ink).text("∅"));

// TradingView logo
const logo = svg.append("g").attr("transform", "translate(22,1630)").attr("fill", ink);
logo.append("path").attr("d", "M0 0 H15 V26 H7 V9 H0 Z");
logo.append("circle").attr("cx", 21).attr("cy", 4.5).attr("r", 4.5);
logo.append("path").attr("d", "M28 0 H37 L27 26 H18 Z");
svg.append("text").attr("x", 66).attr("y", 1655).attr("font-size", 27).attr("fill", ink).text("TradingView");
</script>
</body>
</html>
